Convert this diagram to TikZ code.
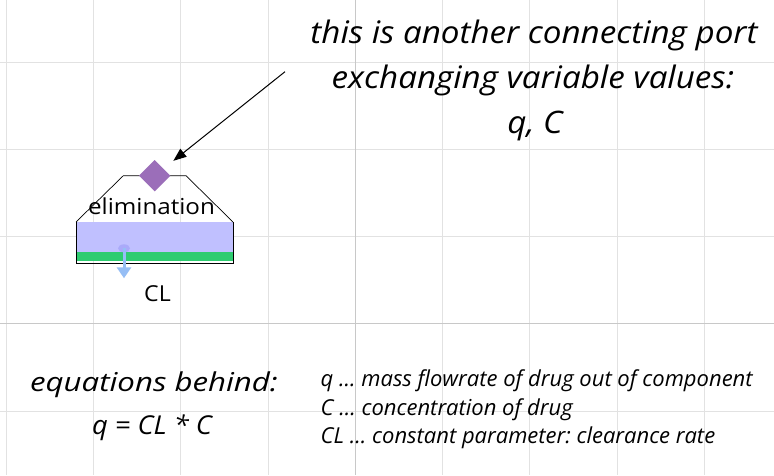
\documentclass[tikz,border=0pt]{standalone}
\usepackage{graphicx}
\usepackage{fontspec}
\setmainfont{Open Sans}
\usetikzlibrary{arrows.meta,shapes.geometric}
\definecolor{gridc}{RGB}{226,226,226}
\definecolor{gridmaj}{RGB}{200,200,200}
\definecolor{portpurple}{RGB}{155,110,185}
\definecolor{lav}{RGB}{192,192,255}
\definecolor{greenband}{RGB}{46,204,113}
\definecolor{flowblue}{RGB}{150,190,245}
\definecolor{portblue}{RGB}{170,170,250}
\newcommand{\hstretch}[2]{\scalebox{#1}[1]{#2}}
\frenchspacing
\begin{document}
\begin{tikzpicture}[x=1pt,y=-1pt,
  gridline/.style={draw=gridc,line width=1pt},
  gridmajor/.style={draw=gridmaj,line width=1pt},
  bigtxt/.style={font=\fontsize{31}{36}\selectfont\itshape,anchor=base,inner sep=0pt},
  eqtxt/.style={font=\fontsize{26}{30}\selectfont\itshape,anchor=base,inner sep=0pt},
  listtxt/.style={font=\fontsize{22}{26}\selectfont\itshape,anchor=base west,inner sep=0pt},
  lbltxt/.style={font=\fontsize{22}{26}\selectfont,anchor=base,inner sep=0pt},
  outline/.style={draw=black,line width=0.7pt},
  pointer/.style={draw=black,line width=1pt,-{Triangle[length=13pt,width=10pt]}},
  flow/.style={draw=flowblue,line width=3pt,-{Triangle[length=11pt,width=14pt]}}
]
\useasboundingbox (0,0) rectangle (774,475);
\fill[white] (0,0) rectangle (774,475);
% grid
\foreach \k in {0,1,2,3,5,6,7,8}
  \draw[gridline] ({6.3+87.25*\k},0) -- ({6.3+87.25*\k},475);
\foreach \k in {0,1,2,4}
  \draw[gridline] (0,{62+87.25*\k}) -- (774,{62+87.25*\k});
\draw[gridmajor] (355.3,0) -- (355.3,475);
\draw[gridmajor] (0,323.75) -- (774,323.75);
% block
\fill[lav] (76,222) rectangle (233,252);
\fill[greenband] (76,252) rectangle (233,261);
\draw[outline] (76,222) -- (123.3,175.7) -- (186,175.7) -- (233,222);
\draw[outline] (76,222) -- (76,263) -- (233,263) -- (233,222);
\node[lbltxt] (elim) at (151.5,214) {\hstretch{1.1}{elimination}};
\node[diamond,fill=portpurple,inner sep=0pt,minimum width=31.5pt,minimum height=31.5pt] (port) at (154.7,175.7) {};
\node[ellipse,fill=portblue,inner sep=0pt,minimum width=12pt,minimum height=8pt] (outport) at (124,248.3) {};
\coordinate (flowend) at (124,278.3);
\draw[flow] (outport.center) -- (flowend);
\node[lbltxt] (cl) at (157.5,301) {\hstretch{1.05}{CL}};
% annotation
\node[bigtxt] (t1) at (534,43.3) {\hstretch{1.07}{this is another connecting port}};
\node[bigtxt] (t2) at (533,88.3) {\hstretch{1.07}{exchanging variable values:}};
\node[bigtxt] (t3) at (535,133.3) {\hstretch{1.07}{q, C}};
\coordinate (astart) at (285,71.7);
\draw[pointer,shorten >=12.5pt] (astart) -- (port);
% equations
\node[eqtxt] (e1) at (154,391.7) {\hstretch{1.2}{equations behind:}};
\node[eqtxt] (e2) at (152,434) {\hstretch{1.05}{q = CL * C}};
\node[listtxt] (l1) at (320.5,386) {q ... mass flowrate of drug out of component};
\node[listtxt] (l2) at (320.5,415) {C ... concentration of drug};
\node[listtxt] (l3) at (320.5,443.5) {CL ... constant parameter: clearance rate};
\end{tikzpicture}
\end{document}
